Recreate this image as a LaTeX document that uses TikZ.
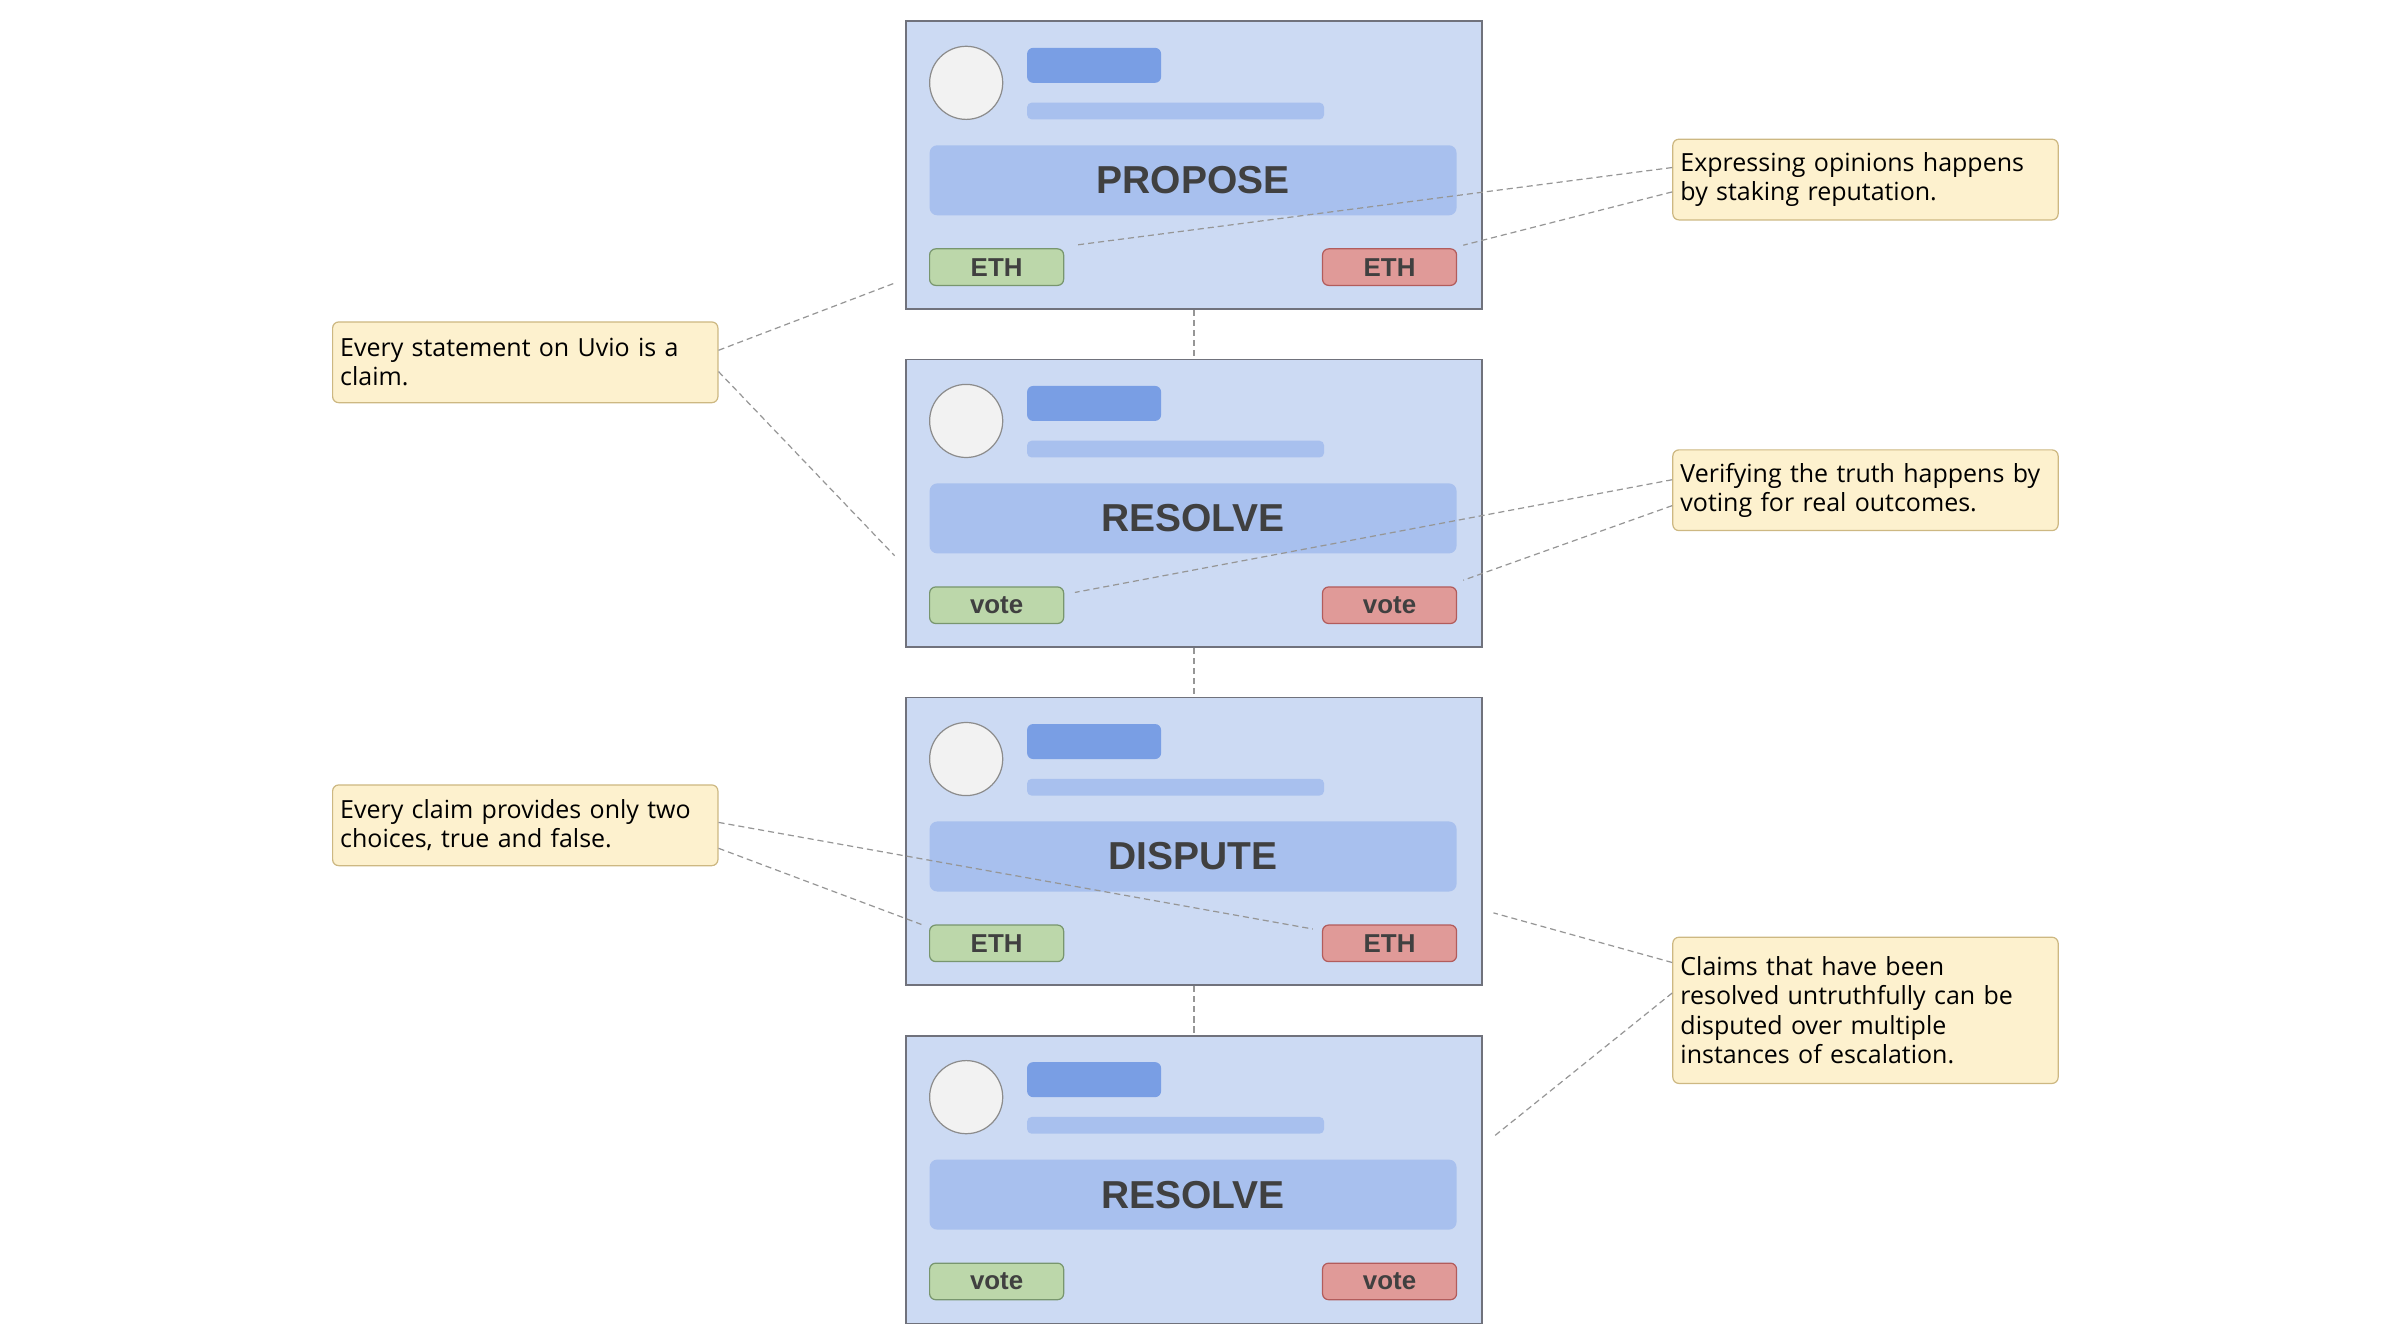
\documentclass[tikz,border=0pt]{standalone}
\usepackage{fontspec}
\setmainfont{Open Sans}
\newfontfamily\tagfont{Liberation Sans}
\usetikzlibrary{positioning,calc}

\definecolor{cardfill}{RGB}{204,218,243}
\definecolor{cardline}{RGB}{112,114,124}
\definecolor{titlefill}{RGB}{121,158,228}
\definecolor{barfill}{RGB}{168,192,238}
\definecolor{avatarfill}{RGB}{242,242,242}
\definecolor{avatarline}{RGB}{140,140,140}
\definecolor{yesfill}{RGB}{188,215,170}
\definecolor{yesline}{RGB}{120,150,110}
\definecolor{nofill}{RGB}{224,154,152}
\definecolor{noline}{RGB}{178,92,92}
\definecolor{notefill}{RGB}{253,241,206}
\definecolor{noteline}{RGB}{205,184,130}
\definecolor{labeltext}{RGB}{64,64,64}
\definecolor{linkgray}{RGB}{150,150,150}

\tikzset{
  card/.style={draw=cardline, fill=cardfill, line width=0.6pt, minimum width=189pt, minimum height=94.5pt, inner sep=0pt},
  avatar/.style={circle, draw=avatarline, fill=avatarfill, line width=0.4pt, minimum size=24pt, inner sep=0pt},
  titlebar/.style={fill=titlefill, rounded corners=2pt, minimum width=44pt, minimum height=11.5pt, inner sep=0pt},
  subbar/.style={fill=barfill, rounded corners=1.5pt, minimum width=97.5pt, minimum height=5.5pt, inner sep=0pt},
  stagebar/.style={fill=barfill, rounded corners=2.5pt, minimum width=173pt, minimum height=23pt, inner sep=0pt,
    text=labeltext, font=\tagfont\bfseries\fontsize{12.8}{14}\selectfont},
  tagbox/.style={rounded corners=2pt, line width=0.4pt, minimum width=44pt, minimum height=12pt, inner sep=0pt,
    text=labeltext, font=\tagfont\bfseries\fontsize{8.5}{9}\selectfont},
  yestag/.style={tagbox, draw=yesline, fill=yesfill},
  notag/.style={tagbox, draw=noline, fill=nofill},
  note/.style={draw=noteline, fill=notefill, line width=0.4pt, rounded corners=2pt, anchor=north west, align=left,
    text width=121.5pt, inner xsep=2.5pt, inner ysep=0pt, minimum height=26.5pt, font=\fontsize{8.2}{9.65}\selectfont},
  link/.style={draw=linkgray, line width=0.4pt, dash pattern=on 2pt off 1.3pt}
}

\begin{document}
\begin{tikzpicture}[x=0.5pt, y=-0.5pt, node distance=111pt]
    \useasboundingbox (0,0) rectangle (1568,882);

    % the four stages of a claim
    \node[card] (card1) at (784,108.5) {};
    \node[card, below of=card1] (card2) {};
    \node[card, below of=card2] (card3) {};
    \node[card, below of=card3] (card4) {};

    \foreach \i/\lab/\tag in {1/PROPOSE/ETH, 2/RESOLVE/vote, 3/DISPUTE/ETH, 4/RESOLVE/vote} {
        \node[avatar] (face\i) at ($(card\i.north west)+(40,41)$) {};
        \node[titlebar] (name\i) at ($(card\i.north west)+(124,29.5)$) {};
        \node[subbar] (meta\i) at ($(card\i.north west)+(177.5,59.5)$) {};
        \node[stagebar] (stage\i) at ($(card\i.north west)+(189,105)$) {\lab};
        \node[yestag] (yes\i) at ($(card\i.north west)+(60,162)$) {\tag};
        \node[notag] (no\i) at ($(card\i.north west)+(318,162)$) {\tag};
    }

    \foreach \i/\j in {1/2, 2/3, 3/4}
        \draw[link] (card\i.south) -- (card\j.north);

    % notes
    \node[note] (claimnote) at (218,211) {Every statement on Uvio is a\\claim.};
    \node[note] (stakenote) at (1098,91) {Expressing opinions happens\\by staking reputation.};
    \node[note] (votenote) at (1098,295) {Verifying the truth happens by\\voting for real outcomes.};
    \node[note] (choicenote) at (218,515) {Every claim provides only two\\choices, true and false.};
    \node[note, minimum height=48pt] (disputenote) at (1098,615) {Claims that have been\\resolved untruthfully can be\\disputed over multiple\\instances of escalation.};

    \draw[link] ($(claimnote.north east)+(0,19)$) -- ($(card1.north west)+(-7,172.5)$);
    \draw[link] ($(claimnote.north east)+(0,33)$) -- ($(card2.north west)+(-7,129.5)$);
    \draw[link] ($(stakenote.north west)+(0,19)$) -- ($(yes1.north east)+(7,-2)$);
    \draw[link] ($(stakenote.north west)+(0,35)$) -- ($(no1.north east)+(4,-2)$);
    \draw[link] ($(votenote.north west)+(0,20)$) -- ($(yes2.north east)+(7,4)$);
    \draw[link] ($(votenote.north west)+(0,37)$) -- ($(no2.north east)+(4,-4)$);
    \draw[link] ($(choicenote.north east)+(0,25)$) -- ($(no3.north west)+(-6,3)$);
    \draw[link] ($(choicenote.north east)+(0,42)$) -- ($(yes3.north west)+(-5,0)$);
    \draw[link] ($(disputenote.north west)+(0,17)$) -- ($(card3.north east)+(7,142)$);
    \draw[link] ($(disputenote.north west)+(0,37)$) -- ($(card4.north east)+(7,67)$);
\end{tikzpicture}
\end{document}
